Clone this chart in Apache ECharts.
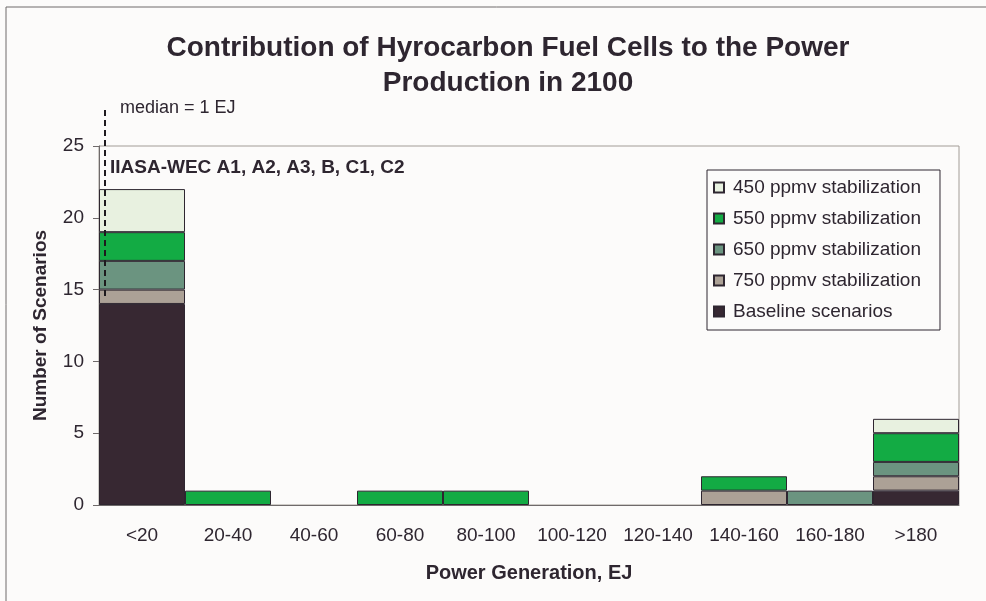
<!DOCTYPE html>
<html>
<head>
<meta charset="utf-8">
<script src="https://cdn.jsdelivr.net/npm/echarts@6/dist/echarts.min.js"></script>
<style>
  html, body { margin: 0; padding: 0; background: #fcfbfa; }
  #chart { width: 986px; height: 601px; }
</style>
</head>
<body>
<div id="chart"></div>
<script>
// bins of power generation (EJ)
const categories = ['<20', '20-40', '40-60', '60-80', '80-100', '100-120', '120-140', '140-160', '160-180', '>180']

// number of scenarios per bin, by stabilization level
const baseline = [14, 0, 0, 0, 0, 0, 0, 0, 0, 1]
const ppmv750 = [1, 0, 0, 0, 0, 0, 0, 1, 0, 1]
const ppmv650 = [2, 0, 0, 0, 0, 0, 0, 0, 1, 1]
const ppmv550 = [2, 1, 0, 1, 1, 0, 0, 1, 0, 2]
const ppmv450 = [3, 0, 0, 0, 0, 0, 0, 0, 0, 1]

const yTicks = [0, 5, 10, 15, 20, 25]

const font = '"Liberation Sans", Arial, sans-serif'
const ink = '#2e2630'

const layers = [
  { name: 'Baseline scenarios', data: baseline, color: '#372832' },
  { name: '750 ppmv stabilization', data: ppmv750, color: '#aca196' },
  { name: '650 ppmv stabilization', data: ppmv650, color: '#6b9480' },
  { name: '550 ppmv stabilization', data: ppmv550, color: '#13ab44' },
  { name: '450 ppmv stabilization', data: ppmv450, color: '#e8f1e0' }
]

const chart = echarts.init(document.getElementById('chart'))

chart.setOption({
  backgroundColor: '#fcfbfa',
  animation: false,
  title: {
    text: 'Contribution of Hyrocarbon Fuel Cells to the Power\nProduction in 2100',
    left: 503,
    textAlign: 'center',
    top: 26,
    textStyle: { fontFamily: font, fontSize: 28, fontWeight: 'bold', color: ink, lineHeight: 35 }
  },
  legend: {
    orient: 'vertical',
    left: 707,
    top: 170,
    padding: [8, 19, 9, 6],
    itemGap: 12,
    itemWidth: 10,
    itemHeight: 10,
    icon: 'rect',
    borderColor: ink,
    borderWidth: 1,
    backgroundColor: '#fcfbfa',
    data: layers.map(l => l.name).reverse(),
    textStyle: { fontFamily: font, fontSize: 19, color: ink, padding: [0, 0, 0, 4] }
  },
  grid: {
    left: 99,
    right: 27,
    top: 146,
    bottom: 96,
    show: true,
    borderColor: '#a29c96',
    borderWidth: 1,
    backgroundColor: 'transparent'
  },
  xAxis: {
    type: 'category',
    data: categories,
    name: 'Power Generation, EJ',
    nameLocation: 'middle',
    nameGap: 58,
    nameTextStyle: { fontFamily: font, fontSize: 20, fontWeight: 'bold', color: ink },
    axisLine: { lineStyle: { color: '#6f6a6a', width: 1 } },
    axisTick: { length: 6, interval: 0, lineStyle: { color: '#6f6a6a' } },
    axisLabel: { fontFamily: font, fontSize: 19, color: ink, margin: 21, interval: 0, hideOverlap: false }
  },
  yAxis: {
    type: 'value',
    min: yTicks[0],
    max: yTicks[yTicks.length - 1],
    interval: 5,
    name: 'Number of Scenarios',
    nameLocation: 'middle',
    nameGap: 49,
    nameTextStyle: { fontFamily: font, fontSize: 19, fontWeight: 'bold', color: ink },
    axisLine: { show: true, lineStyle: { color: '#6f6a6a', width: 1 } },
    axisTick: { show: true, length: 6, lineStyle: { color: '#6f6a6a' } },
    splitLine: { show: false },
    axisLabel: { fontFamily: font, fontSize: 19, color: ink, margin: 15 }
  },
  series: layers.map(l => ({
    name: l.name,
    type: 'bar',
    stack: 'total',
    barCategoryGap: '0%',
    data: l.data.map(v => (v === 0 ? '-' : v)),
    itemStyle: { color: l.color, borderColor: ink, borderWidth: 1 }
  })),
  graphic: [
    {
      type: 'line',
      shape: { x1: 105, y1: 110, x2: 105, y2: 300 },
      style: { stroke: '#1e1a1e', lineWidth: 2, lineDash: [6, 4] },
      z: 100
    },
    {
      type: 'text',
      left: 120,
      top: 99,
      style: { text: 'median = 1 EJ', font: '18px "Liberation Sans", Arial, sans-serif', fill: ink }
    },
    {
      type: 'text',
      left: 110,
      top: 158,
      style: { text: 'IIASA-WEC A1, A2, A3, B, C1, C2', font: 'bold 19px "Liberation Sans", Arial, sans-serif', fill: ink }
    },
    {
      type: 'rect',
      shape: { x: 6, y: 7, width: 1000, height: 620 },
      style: { fill: 'none', stroke: '#6f6a6a', lineWidth: 1 },
      silent: true
    }
  ]
})
</script>
</body>
</html>
